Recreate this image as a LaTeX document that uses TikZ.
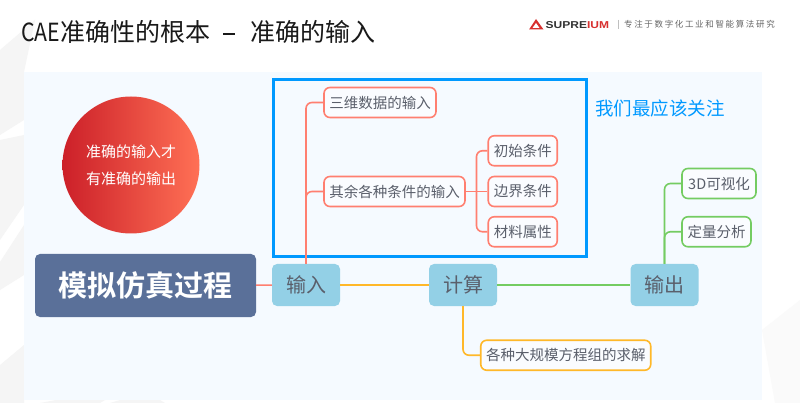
\documentclass[tikz,border=0pt]{standalone}
\usepackage{fontspec}
\setmainfont{Noto Sans CJK SC}
\newfontfamily\boldcjk{Noto Sans CJK SC Bold}
\newfontfamily\logofont{Liberation Sans}
\usepackage{tikz}
\definecolor{panelblue}{HTML}{F5FAFF}
\definecolor{framing}{HTML}{0099FF}
\definecolor{redline}{HTML}{FF7F70}
\definecolor{orangeline}{HTML}{FFB829}
\definecolor{greenline}{HTML}{74CC62}
\definecolor{greytext}{HTML}{5A5F6B}
\definecolor{logored}{HTML}{D8302F}
\tikzstyle{facet}=[black!4]
\tikzstyle{topic}=[fill={rgb,255:red,147;green,208;blue,230},rounded corners=5pt,minimum width=68pt,minimum height=42pt,inner sep=0pt,text=greytext,font=\fontsize{20}{20}\selectfont]
\tikzstyle{leaf}=[draw,line width=1.6pt,fill=white,fill opacity=0.5,text opacity=1,rounded corners=6pt,minimum height=30pt,inner sep=0pt,text=greytext,font=\fontsize{14.5}{14.5}\selectfont]
\tikzstyle{redleaf}=[leaf,draw=redline]
\tikzstyle{orangeleaf}=[leaf,draw=orangeline]
\tikzstyle{greenleaf}=[leaf,draw=greenline]
\tikzstyle{branch}=[line width=1.6pt,rounded corners=6pt]
\begin{document}
\begin{tikzpicture}[x=1pt,y=-1pt]
                  \useasboundingbox (0,0) rectangle (800,403);
                  \fill [white] (0,0) rectangle (800,403);
                  \fill [facet] (0,50) -- (35,20) -- (24,72) -- (24,120) -- (0,135) -- cycle;
                  \fill [facet] (0,140) -- (24,135) -- (24,205) -- (0,240) -- cycle;
                  \fill [facet] (0,262) -- (24,225) -- (24,275) -- (0,290) -- cycle;
                  \fill [facet] (0,365) -- (24,345) -- (24,403) -- (0,403) -- cycle;
                  \fill [facet] (40,403) -- (56,400) -- (105,400) -- (100,403) -- cycle;
                  \fill [facet] (110,403) -- (120,400) -- (160,400) -- (165,403) -- cycle;
                  \fill [black!2] (762,330) -- (800,300) -- (800,403) -- (775,403) -- cycle;
                  \fill [panelblue] (24,72) rectangle (762,400);

                  \node (title) at (21,32) [anchor=west,inner sep=0pt,text=black!90,font=\fontsize{25}{25}\selectfont] {\scalebox{0.85}[1]{CAE}准确性的根本\hspace{13pt}\rule[7pt]{12pt}{1.3pt}\hspace{15pt}准确的输入};
                  \fill [logored] (536,19) -- (543.5,29.5) -- (529,29.5) -- cycle;
                  \fill [white] (536,23) -- (539.5,28) -- (532.5,28) -- cycle;
                  \node (brand) at (545.5,25) [anchor=west,inner sep=0pt,text=black!80,font=\logofont\bfseries\fontsize{10}{10}\selectfont] {\scalebox{1.2}[1]{SUPRE\textcolor{logored}{IUM}}};
                  \draw [black!25] (617.7,20) -- (617.7,29);
                  \node (slogan) at (624,24) [anchor=west,inner sep=0pt,text=black!60,font=\fontsize{8.5}{8.5}\selectfont\addfontfeature{LetterSpace=19.4}] {专注于数字化工业和智能算法研究};

                  \node (focus) at (131,165) [circle,minimum size=137pt,inner sep=0pt,left color={rgb,255:red,204;green,32;blue,41},right color={rgb,255:red,255;green,112;blue,85},text=white,align=center,font=\fontsize{15}{27}\selectfont] {准确的输入才\\有准确的输出};

                  \draw [framing,line width=3pt] (273.5,80) rectangle (586.5,256.5);
                  \node (attention) at (595,108) [anchor=west,inner sep=0pt,text=framing,font=\fontsize{18.5}{18.5}\selectfont] {我们最应该关注};

                  \node (sim) at (145.5,285.5) [fill={rgb,255:red,90;green,112;blue,153},rounded corners=5pt,minimum width=221pt,minimum height=63pt,inner sep=0pt,text=white,font=\boldcjk\fontsize{29}{29}\selectfont] {模拟仿真过程};

                  \node (input) at (306,285) [topic] {输入};
                  \node (solve) at (463,285) [topic] {计算};
                  \node (output) at (664.5,285) [topic] {输出};

                  \node (dim) at (380,102.5) [redleaf,minimum width=112pt] {三维数据的输入};
                  \node (cond) at (394.5,191.5) [redleaf,minimum width=141pt] {其余各种条件的输入};
                  \node (init) at (522.75,150.75) [redleaf,minimum width=69pt] {初始条件};
                  \node (bound) at (522.75,191.5) [redleaf,minimum width=69pt] {边界条件};
                  \node (mat) at (522.75,231.75) [redleaf,minimum width=69pt] {材料属性};

                  \node (solver) at (565.75,355.25) [orangeleaf,minimum width=170pt] {各种大规模方程组的求解};
                  \node (vis) at (719,183.5) [greenleaf,minimum width=74pt] {3D可视化};
                  \node (quant) at (716.5,231.75) [greenleaf,minimum width=69pt] {定量分析};

                  \coordinate (fork) at (476.5,191.5);

                  \draw [redline,line width=1.6pt] (sim) -- (input);
                  \draw [orangeline,line width=1.6pt] (input) -- (solve);
                  \draw [greenline,line width=1.6pt] (solve) -- (output);

                  \draw [redline,branch] (input.north) |- (dim.west);
                  \draw [redline,branch] (input.north) |- (cond.west);
                  \draw [redline,branch] (cond.east) -- (bound.west);
                  \draw [redline,branch] (fork) |- (init.west);
                  \draw [redline,branch] (fork) |- (mat.west);
                  \draw [orangeline,branch] (solve.south) |- (solver.west);
                  \draw [greenline,branch] (output.north) |- (vis.west);
                  \draw [greenline,branch] (output.north) |- (quant.west);
\end{tikzpicture}
\end{document}
